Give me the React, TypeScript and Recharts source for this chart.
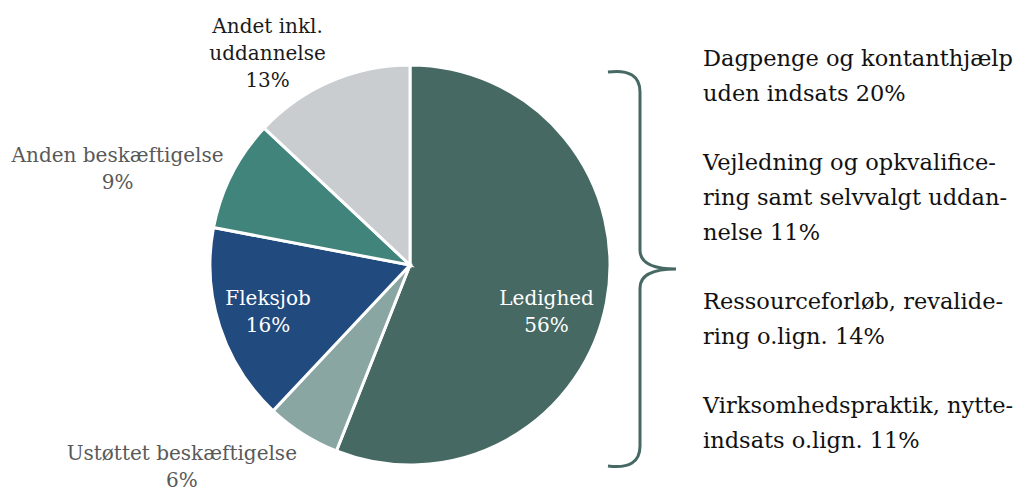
import { PieChart, Pie, Cell, Customized } from "recharts";

const categories = [
  "Ledighed",
  "Ustøttet beskæftigelse",
  "Fleksjob",
  "Anden beskæftigelse",
  "Andet inkl. uddannelse",
];
const shares = [56, 6, 16, 9, 13];
const labelLines = [
  ["Ledighed", "56%"],
  ["Ustøttet beskæftigelse", "6%"],
  ["Fleksjob", "16%"],
  ["Anden beskæftigelse", "9%"],
  ["Andet inkl.", "uddannelse", "13%"],
];
const ledighedBreakdown = [
  ["Dagpenge og kontanthjælp", "uden indsats 20%"],
  ["Vejledning og opkvalifice-", "ring samt selvvalgt uddan-", "nelse 11%"],
  ["Ressourceforløb, revalide-", "ring o.lign. 14%"],
  ["Virksomhedspraktik, nytte-", "indsats o.lign. 11%"],
];

const colors = ["#466964", "#8aa6a2", "#214a7e", "#40847b", "#c9cdd0"];
// label placement: radius factor along the mid angle, then nudge
const labelLayout = [
  { k: 0.68, dx: 3, dy: 15, fill: "#ffffff" },
  { k: 1.0, dx: -121, dy: 26, fill: "#595959" },
  { k: 0.72, dx: -5, dy: -4, fill: "#ffffff" },
  { k: 1.45, dx: -34, dy: 29, fill: "#595959" },
  { k: 1.1, dx: -55, dy: -30, fill: "#1a1a1a" },
];

const FONT = "'DejaVu Serif', serif";
const RADIAN = Math.PI / 180;
const data = categories.map((name, i) => ({ name, value: shares[i] }));

function renderLabel(props: any) {
  const { cx, cy, midAngle, outerRadius, index } = props;
  const lay = labelLayout[index];
  const r = outerRadius * lay.k;
  const x = cx + r * Math.cos(-midAngle * RADIAN) + lay.dx;
  const y = cy + r * Math.sin(-midAngle * RADIAN) + lay.dy;
  return (
    <text
      key={`lbl-${index}`}
      x={x}
      y={y}
      textAnchor="middle"
      fill={lay.fill}
      fontFamily={FONT}
      fontSize={20}
    >
      {labelLines[index].map((line, j) => (
        <tspan key={j} x={x} dy={j === 0 ? 0 : 27}>
          {line}
        </tspan>
      ))}
    </text>
  );
}

function Brace() {
  return (
    <path
      d="M608,72 Q640,68 640,92 L640,250 Q640,269 676,269 Q640,269 640,288 L640,446 Q640,470 608,466"
      fill="none"
      stroke="#466964"
      strokeWidth={3}
    />
  );
}

function Breakdown() {
  let y = 66;
  const blocks: any[] = [];
  ledighedBreakdown.forEach((block, i) => {
    block.forEach((line, j) => {
      blocks.push(
        <text
          key={`${i}-${j}`}
          x={703}
          y={y}
          fill="#111"
          fontFamily={FONT}
          fontSize={22.5}
        >
          {line}
        </text>
      );
      y += 35;
    });
    y += 34;
  });
  return <g>{blocks}</g>;
}

export default function App() {
  return (
    <div style={{ position: "absolute", left: 0, top: 0, background: "#fff" }}>
      <PieChart width={1027} height={491} margin={{ top: 0, right: 0, bottom: 0, left: 0 }}>
        <Pie
          data={data}
          dataKey="value"
          nameKey="name"
          cx={410}
          cy={265}
          outerRadius={200}
          startAngle={90}
          endAngle={-270}
          stroke="#ffffff"
          strokeWidth={3}
          labelLine={false}
          label={renderLabel}
          isAnimationActive={false}
        >
          {data.map((entry, i) => (
            <Cell key={`cell-${i}`} fill={colors[i]} />
          ))}
        </Pie>
        <Customized component={Brace} />
        <Customized component={Breakdown} />
      </PieChart>
    </div>
  );
}
